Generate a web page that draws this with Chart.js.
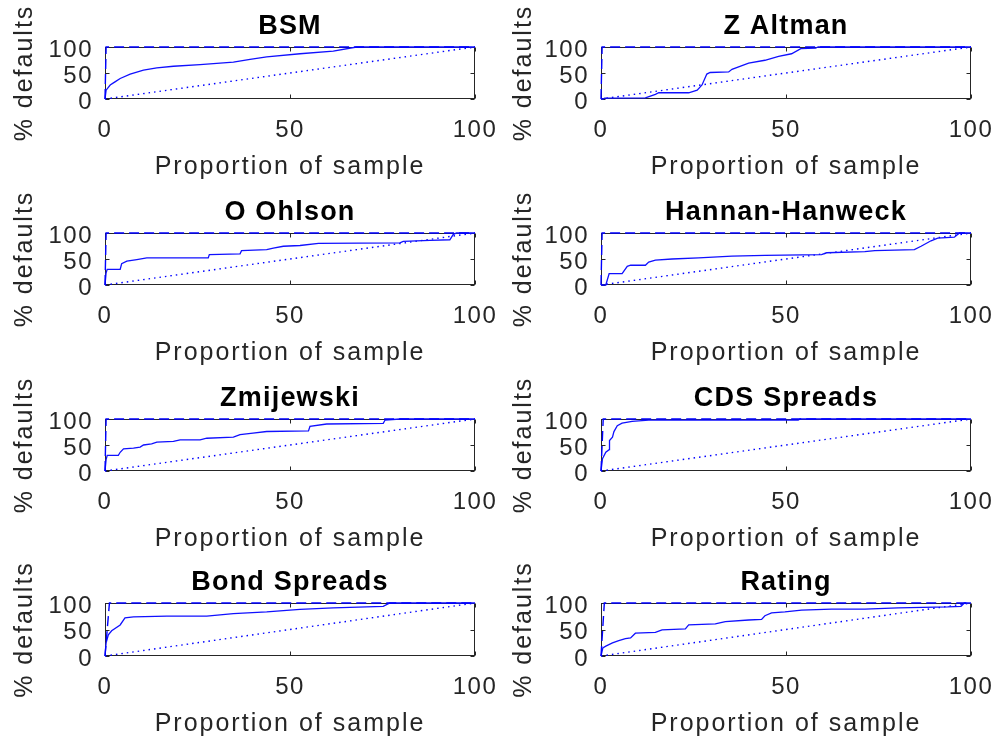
<!DOCTYPE html>
<html><head><meta charset="utf-8">
<script src="https://cdn.jsdelivr.net/npm/chart.js@4.4.0/dist/chart.umd.min.js"></script>
<style>
html,body{margin:0;padding:0;background:#fff;width:998px;height:746px;overflow:hidden;position:relative;}
canvas{position:absolute;display:block;}
</style></head><body>
<script>
// ---------- data ----------
const models = ['BSM', 'Z Altman', 'O Ohlson', 'Hannan-Hanweck', 'Zmijewski', 'CDS Spreads', 'Bond Spreads', 'Rating'];
const xTicks = [0, 50, 100];
const yTicks = [0, 50, 100];
const xLabel = 'Proportion of sample';
const yLabel = '% defaults';

const bsmX = [0, 0.3, 1.4, 2.7, 4.1, 6.8, 10.4, 14, 18.5, 25.7, 34.7, 39.2, 43.7, 52.7, 61.7, 68, 100];
const bsmY = [0, 17, 26.8, 33, 39.5, 47.8, 55.4, 60, 63, 66, 71, 76, 81, 87, 92, 100, 100];

const zAltmanX = [0, 0.5, 1, 12, 14.7, 15.6, 23.7, 26, 27.3, 28.6, 29.5, 34.5, 35.4, 39.9, 44.3, 48, 51.5, 54, 58, 58.7, 100];
const zAltmanY = [0, 0, 1.5, 2, 9, 12, 12, 17, 27, 48, 51, 52, 57, 69, 74.5, 82, 87, 97, 98, 100, 100];

const ohlsonX = [0, 0.3, 0.6, 4.1, 4.5, 5.9, 8.6, 11.3, 27.9, 28.2, 36.5, 36.9, 43.7, 45.5, 48.2, 52.7, 57.7, 79.7, 80.6, 87.8, 93.2, 94.1, 95, 100];
const ohlsonY = [0, 23.6, 30, 30, 40.8, 45.9, 49, 52, 52, 58.6, 60, 66, 68, 71, 74.5, 76, 80, 81, 84, 86, 87, 97, 100, 100];

const hannanX = [0, 1.3, 2.2, 5.7, 7.1, 8, 12, 12.9, 14.7, 19.2, 26.4, 35.4, 44.3, 59.6, 61, 71.3, 74, 84.7, 86.5, 89.2, 91, 95.5, 96.9, 100];
const hannanY = [0, 0, 22, 22, 36, 38, 38, 44, 48, 50, 52, 55.4, 57, 58.6, 62, 64, 66, 68, 74.5, 85, 90, 92, 100, 100];

const zmijX = [0, 0.3, 0.6, 3.6, 4.1, 5, 7.7, 9.5, 10.4, 12.6, 14, 18.5, 20.3, 25.7, 27.5, 34.7, 36.5, 40, 43.7, 55, 55.4, 59.9, 75.2, 75.7, 79.7, 100];
const zmijY = [0, 22, 30, 30, 36, 42.7, 44, 46, 50, 52, 55.4, 57, 60, 60, 63, 65, 70, 73, 76, 77, 86, 90.4, 91.7, 98, 100, 100];

const cdsX = [0, 0.4, 1.3, 2.2, 2.3, 3.1, 3.5, 4.4, 5.7, 8.4, 12.9, 53.3, 53.8, 100];
const cdsY = [0, 23.6, 36, 41, 58.6, 65, 75.8, 87, 92, 95.5, 98, 98, 100, 100];

const bondX = [0, 0.3, 0.9, 1.8, 4.1, 5.4, 7.7, 16.7, 27.5, 34.7, 43.7, 52.7, 61.7, 75.2, 77, 100];
const bondY = [0, 24.7, 40, 47.5, 58.6, 72, 74, 75.3, 75.3, 80, 83.3, 88, 90.7, 93.8, 100, 100];

const ratingX = [0, 0.5, 1.3, 3.1, 4.8, 6.6, 8, 9.3, 14.7, 16.5, 22.8, 23.7, 30.9, 33.6, 39.9, 43.4, 44.3, 46.1, 49.7, 54.2, 62.3, 71.3, 80.3, 93.7, 97.3, 98.2, 100];
const ratingY = [0, 15.4, 18.5, 24.7, 29, 32.7, 34, 43, 44.4, 49.4, 51, 58.6, 60.5, 64.8, 67.9, 69, 75.9, 81.5, 83.3, 86.4, 88.3, 88.3, 90.7, 92.6, 93.8, 100, 100];

const capX = [bsmX, zAltmanX, ohlsonX, hannanX, zmijX, cdsX, bondX, ratingX];
const capY = [bsmY, zAltmanY, ohlsonY, hannanY, zmijY, cdsY, bondY, ratingY];

// perfect model: reaches 100% at the default share of the sample
const perfectShare = [0.3, 0.3, 0.3, 0.3, 0.3, 0.6, 1.2, 0.9];
const perfectY = [0, 100, 100];
// random model diagonal
const randomX = [0, 100];
const randomY = [0, 100];

// ---------- layout ----------
const FONT = "'Liberation Sans', Arial, Helvetica, sans-serif";
const colLeft = [0, 499];
const plotLeft = [105, 601];
const plotRight = [475, 971];
const rowTop = [47, 233, 419, 603];
const rowBottom = [99, 285, 471, 656];
const TOPSPACE = 47, BOTSPACE = 87, CW = 499;

function spaced(chart, obj, method, sp) {
  if (!obj || obj['__p_' + method]) return;
  const orig = obj[method];
  obj[method] = function (...args) {
    const c = chart.ctx;
    const prev = c.letterSpacing;
    c.letterSpacing = sp;
    try { return orig.apply(this, args); } finally { c.letterSpacing = prev; }
  };
  obj['__p_' + method] = true;
}
const spacingPlugin = {
  id: 'spacing',
  beforeDraw(chart) {
    spaced(chart, chart.scales.x, 'drawLabels', '1.5px');
    spaced(chart, chart.scales.y, 'drawLabels', '1.5px');
    spaced(chart, chart.scales.x, 'drawTitle', '2px');
    spaced(chart, chart.scales.y, 'drawTitle', '2px');
    spaced(chart, chart.titleBlock, 'draw', '1.2px');
  }
};

const boxPlugin = {
  id: 'box',
  beforeDatasetsDraw(chart) {
    const {ctx, chartArea: a, scales: {x, y}} = chart;
    const L = Math.round(a.left) + 0.5, R = Math.round(a.right) - 0.5;
    const T = Math.round(a.top) + 0.5, B = Math.round(a.bottom) - 0.5;
    ctx.save();
    ctx.strokeStyle = '#262626';
    ctx.lineWidth = 1;
    ctx.strokeRect(L, T, R - L, B - T);
    ctx.beginPath();
    const tl = 4;
    xTicks.forEach(v => {
      const p = Math.round(x.getPixelForValue(v)) + 0.5;
      ctx.moveTo(p, B); ctx.lineTo(p, B - tl);
      ctx.moveTo(p, T); ctx.lineTo(p, T + tl);
    });
    yTicks.forEach(v => {
      const p = Math.round(y.getPixelForValue(v)) + 0.5;
      ctx.moveTo(L, p); ctx.lineTo(L + tl, p);
      ctx.moveTo(R, p); ctx.lineTo(R - tl, p);
    });
    ctx.stroke();
    ctx.restore();
  }
};

function noPad(s) { s.paddingLeft = 0; s.paddingRight = 0; s.paddingTop = 0; s.paddingBottom = 0; }

models.forEach((name, i) => {
  const c = i % 2, r = Math.floor(i / 2);
  const cv = document.createElement('canvas');
  const H = rowBottom[r] - rowTop[r] + TOPSPACE + BOTSPACE;
  cv.width = CW; cv.height = H;
  cv.style.left = colLeft[c] + 'px';
  cv.style.top = (rowTop[r] - TOPSPACE) + 'px';
  cv.style.width = CW + 'px'; cv.style.height = H + 'px';
  document.body.appendChild(cv);
  const yw = plotLeft[c] - colLeft[c];
  const padR = colLeft[c] + CW - plotRight[c];

  const cap = capX[i].map((v, k) => ({x: v, y: capY[i][k]}));
  const perfect = [0, perfectShare[i], 100].map((v, k) => ({x: v, y: perfectY[k]}));
  const random = randomX.map((v, k) => ({x: v, y: randomY[k]}));

  new Chart(cv, {
    type: 'line',
    data: {
      datasets: [
        {label: 'Perfect', data: perfect, borderColor: '#0000ff', borderWidth: 1.4, borderDash: [10, 5], pointRadius: 0, tension: 0, clip: 3},
        {label: name, data: cap, borderColor: '#1010ff', borderWidth: 1.3, pointRadius: 0, tension: 0, clip: 3},
        {label: 'Random', data: random, borderColor: '#0000ff', borderWidth: 1.4, borderDash: [1.5, 4], pointRadius: 0, tension: 0, clip: 3}
      ]
    },
    options: {
      responsive: false,
      animation: false,
      devicePixelRatio: 1,
      events: [],
      layout: {padding: {top: 0, left: 0, right: padR, bottom: 0}},
      plugins: {
        legend: {display: false},
        tooltip: {enabled: false},
        title: {
          display: true, text: name, fullSize: false, color: '#000',
          font: {family: FONT, size: 27, weight: 'bold', lineHeight: 1.2},
          padding: {top: 10, bottom: TOPSPACE - 32.4 - 10}
        }
      },
      scales: {
        x: {
          type: 'linear', position: 'bottom', min: 0, max: 100,
          grid: {display: false, drawTicks: false},
          border: {display: false},
          ticks: {stepSize: 50, autoSkip: false, maxRotation: 0, padding: 17.2, color: '#262626',
                  font: {family: FONT, size: 24, lineHeight: 1.2}},
          title: {display: true, text: xLabel, color: '#262626',
                  font: {family: FONT, size: 25, lineHeight: 1.2}, padding: {top: 0, bottom: 3.8}},
          afterFit(s) { s.height = BOTSPACE; noPad(s); }
        },
        y: {
          type: 'linear', position: 'left', min: 0, max: 100,
          grid: {display: false, drawTicks: false},
          border: {display: false},
          ticks: {stepSize: 50, autoSkip: false, padding: 12, labelOffset: 3, color: '#262626',
                  font: {family: FONT, size: 24, lineHeight: 1.2}},
          title: {display: true, text: yLabel, color: '#262626',
                  font: {family: FONT, size: 25, lineHeight: 1.2}, padding: {top: 10, bottom: 0}},
          afterFit(s) { s.width = yw; noPad(s); }
        }
      }
    },
    plugins: [spacingPlugin, boxPlugin]
  });
});
</script>
</body></html>
